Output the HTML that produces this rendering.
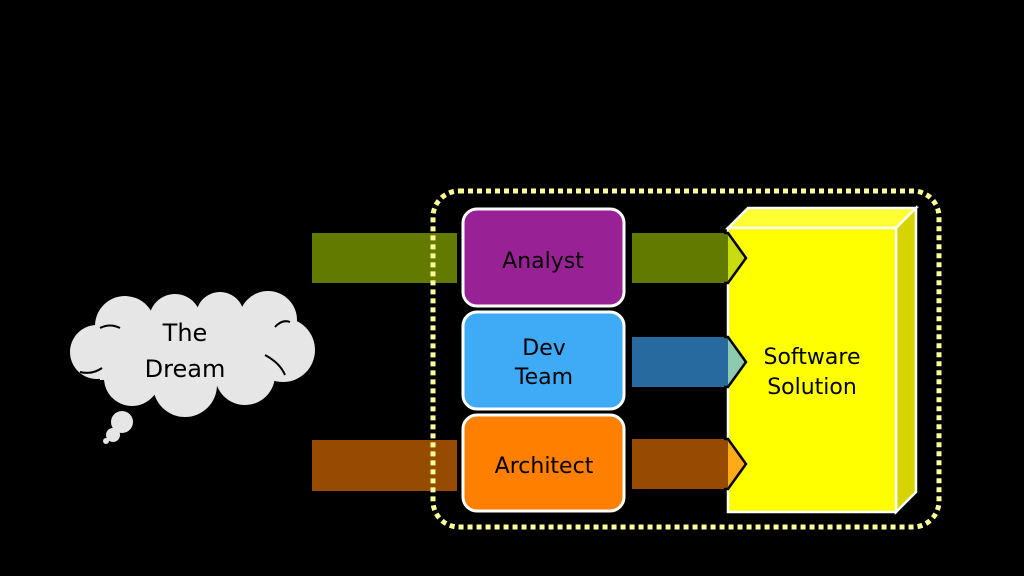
<!DOCTYPE html>
<html><head><style>
html,body{margin:0;padding:0;background:#000;width:1024px;height:576px;overflow:hidden}
svg{display:block}
text{font-family:"DejaVu Sans","Liberation Sans",sans-serif;fill:#000}
</style></head><body>
<svg width="1024" height="576" viewBox="0 0 1024 576" xmlns="http://www.w3.org/2000/svg">
<rect width="1024" height="576" fill="#000"/>
<rect x="312" y="233" width="145" height="50" fill="#637a00"/>
<rect x="312" y="440" width="145" height="51" fill="#974b00"/>
<rect x="433" y="191" width="506" height="336" rx="26" ry="26" fill="none" stroke="#ffff99" stroke-width="5" stroke-dasharray="5 4"/>
<rect x="463" y="209" width="161" height="97" rx="14" fill="#982196" stroke="#fff" stroke-width="3"/>
<text x="543" y="268" font-size="22" text-anchor="middle">Analyst</text>
<rect x="463" y="312" width="161" height="97" rx="14" fill="#3fabf6" stroke="#fff" stroke-width="3"/>
<text x="544" y="355" font-size="22" text-anchor="middle">Dev</text>
<text x="544" y="384" font-size="22" text-anchor="middle">Team</text>
<rect x="463" y="415" width="161" height="96" rx="14" fill="#ff7f00" stroke="#fff" stroke-width="3"/>
<text x="544" y="473" font-size="22" text-anchor="middle">Architect</text>
<polygon points="728,228 748,208 916,208 896,228" fill="#ffff33" stroke="#fff" stroke-width="2.5"/>
<polygon points="896,228 916,208 916,492 896,512" fill="#d6d300" stroke="#fff" stroke-width="2.5"/>
<rect x="728" y="228" width="168" height="284" fill="#ffff00" stroke="#fff" stroke-width="2.5"/>
<text x="812" y="364" font-size="22" text-anchor="middle">Software</text>
<text x="812" y="394" font-size="22" text-anchor="middle">Solution</text>
<polygon points="632,233 728,233 746,258 728,283 632,283" fill="#637a00"/>
<polygon points="728,233 746,258 728,283" fill="#c9dc10"/>
<polyline points="724,233 728,233 746,258 728,283 724,283" fill="none" stroke="#000" stroke-width="2.5"/>
<polygon points="632,337 728,337 746,362 728,387 632,387" fill="#276a9f"/>
<polygon points="728,337 746,362 728,387" fill="#8fc9b0"/>
<polyline points="724,337 728,337 746,362 728,387 724,387" fill="none" stroke="#000" stroke-width="2.5"/>
<polygon points="632,439 728,439 746,464 728,489 632,489" fill="#974b00"/>
<polygon points="728,439 746,464 728,489" fill="#ffaa18"/>
<polyline points="724,439 728,439 746,464 728,489 724,489" fill="none" stroke="#000" stroke-width="2.5"/>
<g fill="#e6e6e6">
<circle cx="125" cy="326" r="30"/>
<circle cx="97" cy="352" r="27"/>
<circle cx="132" cy="378" r="28"/>
<circle cx="185" cy="385" r="32"/>
<circle cx="245" cy="375" r="30"/>
<circle cx="283" cy="350" r="32"/>
<circle cx="268" cy="320" r="29"/>
<circle cx="220" cy="316" r="24"/>
<circle cx="175" cy="320" r="26"/>
<rect x="100" y="315" width="190" height="65"/>
<circle cx="122" cy="422" r="11"/>
<circle cx="113" cy="435" r="7"/>
<circle cx="106" cy="441" r="3"/>
</g>
<g fill="none" stroke="#000" stroke-width="2">
<path d="M100 328 q10 -5 20 0"/>
<path d="M80 372 q12 3 22 -4"/>
<path d="M265 355 q15 8 20 20"/>
<path d="M290 322 q-8 -3 -15 5"/>
</g>
<text x="185" y="341" font-size="24" text-anchor="middle">The</text>
<text x="185" y="377" font-size="24" text-anchor="middle">Dream</text>
</svg>
</body></html>
